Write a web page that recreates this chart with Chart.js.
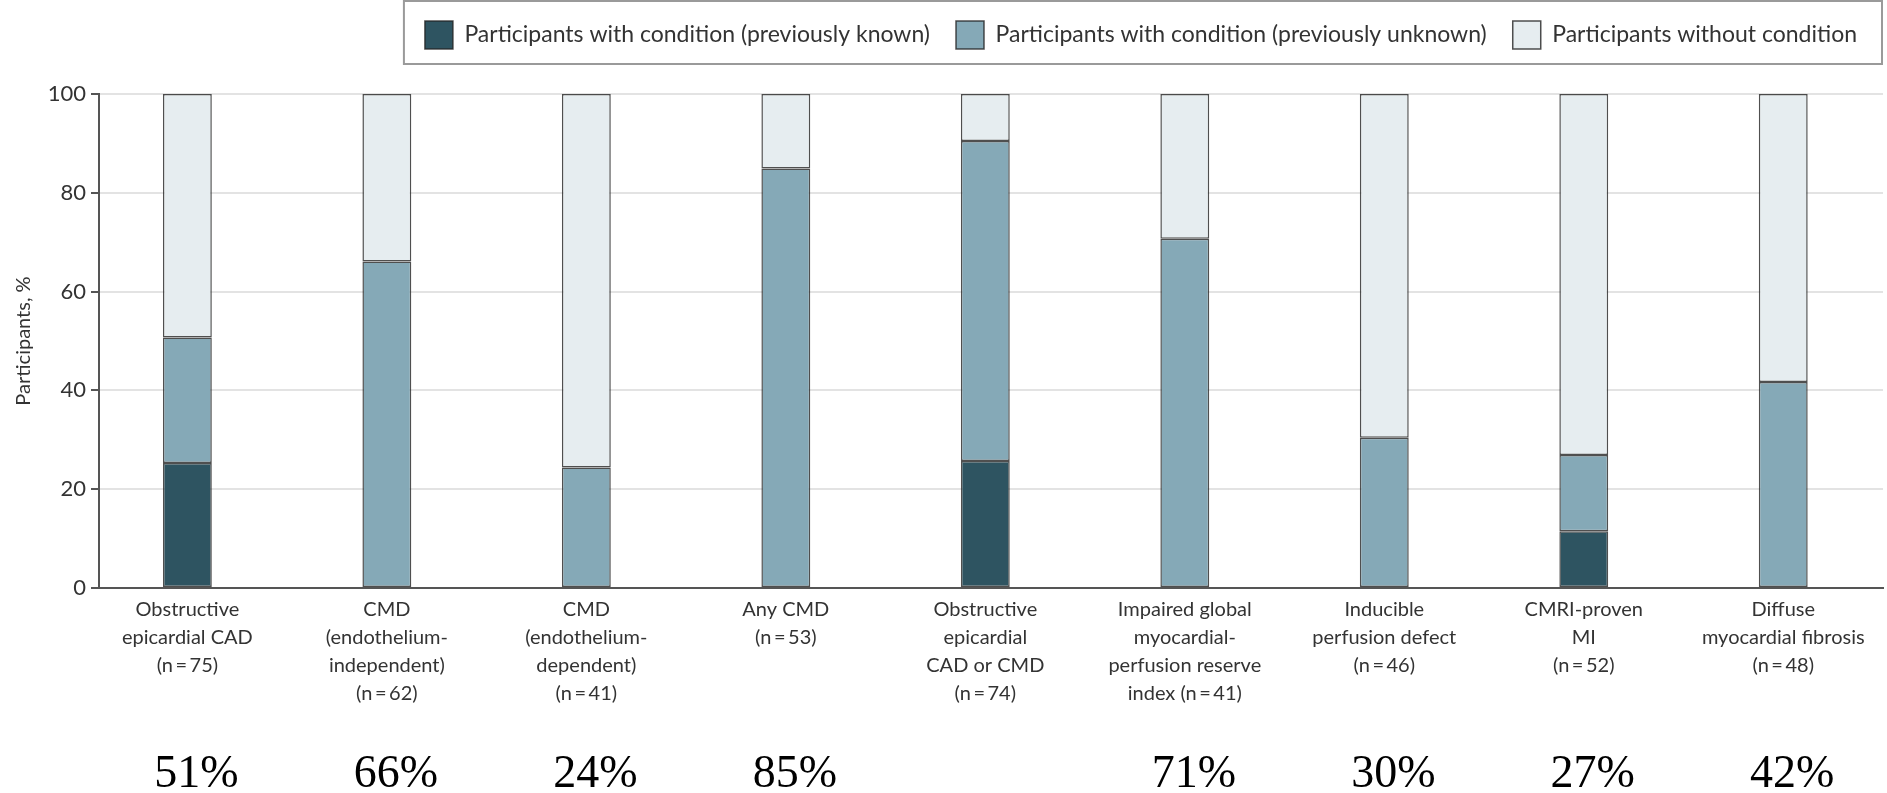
<!DOCTYPE html>
<html><head><meta charset="utf-8">
<script src="https://cdn.jsdelivr.net/npm/chart.js@4.4.1/dist/chart.umd.min.js"></script>
<style>html,body{margin:0;padding:0;background:#fff;}</style>
</head><body>
<canvas id="c" width="1887" height="793"></canvas>
<script>
const categories = [
  ["Obstructive", "epicardial CAD", "(n\u2009=\u200975)"],
  ["CMD", "(endothelium-", "independent)", "(n\u2009=\u200962)"],
  ["CMD", "(endothelium-", "dependent)", "(n\u2009=\u200941)"],
  ["Any CMD", "(n\u2009=\u200953)"],
  ["Obstructive", "epicardial", "CAD or CMD", "(n\u2009=\u200974)"],
  ["Impaired global", "myocardial-", "perfusion reserve", "index (n\u2009=\u200941)"],
  ["Inducible", "perfusion defect", "(n\u2009=\u200946)"],
  ["CMRI-proven", "MI", "(n\u2009=\u200952)"],
  ["Diffuse", "myocardial fibrosis", "(n\u2009=\u200948)"]
];
const knownPct   = [25.3, 0, 0, 0, 25.7, 0, 0, 11.5, 0];
const unknownPct = [25.4, 66.1, 24.4, 84.9, 64.8, 70.7, 30.4, 15.4, 41.7];
const withoutPct = [49.3, 33.9, 75.6, 15.1, 9.5, 29.3, 69.6, 73.1, 58.3];
const totalLabels = ["51%", "66%", "24%", "85%", "", "71%", "30%", "27%", "42%"];
const seriesNames = [
  "Participants with condition (previously known)",
  "Participants with condition (previously unknown)",
  "Participants without condition"
];
const yAxisTitle = "Participants, %";

const toPoints = arr => arr.map((v, i) => ({x: i, y: v}));
const barBorder = 'rgba(35,35,35,0.8)';

const legendFrame = {
  id: 'legendFrame',
  beforeUpdate(chart) {
    const lg = chart.legend;
    if (lg && !lg._wrappedFit) {
      const origFit = lg.fit.bind(lg);
      lg.fit = function () { origFit(); this.height = 99; };
      lg._wrappedFit = true;
    }
  },
  afterDraw(chart) {
    const lg = chart.legend;
    const hb = lg && lg.legendHitBoxes;
    if (!hb || !hb.length) return;
    const c = chart.ctx;
    const left = hb[0].left - 21;
    const right = lg.right - 1;
    const top = 1;
    const bottom = hb[0].top + hb[0].height + 15;
    c.save();
    c.strokeStyle = '#9a9a9a';
    c.lineWidth = 2;
    c.strokeRect(left, top, right - left, bottom - top);
    c.restore();
  }
};

Chart.defaults.font.family = 'Lato, "Open Sans", sans-serif';
Chart.defaults.color = '#333';

new Chart(document.getElementById('c'), {
  type: 'bar',
  data: {
    datasets: [
      {label: seriesNames[0], data: toPoints(knownPct), backgroundColor: '#2e5461'},
      {label: seriesNames[1], data: toPoints(unknownPct), backgroundColor: '#85a9b7'},
      {label: seriesNames[2], data: toPoints(withoutPct), backgroundColor: '#e6edf0'}
    ].map(d => Object.assign(d, {
      borderColor: barBorder, borderWidth: 1.5, borderSkipped: false,
      barPercentage: 0.245, categoryPercentage: 1
    }))
  },
  options: {
    responsive: false,
    animation: false,
    devicePixelRatio: 1,
    layout: {padding: {top: -5, right: 4, bottom: 0, left: 0}},
    plugins: {
      tooltip: {enabled: false},
      legend: {
        position: 'top', align: 'end',
        labels: {boxWidth: 28, boxHeight: 28, padding: 26, color: '#333',
                 font: {size: 23}}
      }
    },
    scales: {
      x: {
        type: 'linear', stacked: true, position: 'bottom', weight: 0, offset: false,
        min: -0.443, max: 8.5,
        grid: {display: true, color: 'rgba(0,0,0,0)', drawTicks: false, offset: false},
        border: {display: true, color: '#555', width: 2},
        ticks: {
          stepSize: 1, includeBounds: false, autoSkip: false, maxRotation: 0,
          padding: 8, color: '#333', font: {size: 20, lineHeight: 1.4},
          callback: v => Number.isInteger(v) ? categories[v] : ''
        },
        afterFit: s => { s.height = 140; }
      },
      x2: {
        type: 'linear', position: 'bottom', weight: 1, offset: false,
        min: -0.443, max: 8.5,
        grid: {display: false, offset: false},
        border: {display: false},
        ticks: {
          stepSize: 1, includeBounds: false, autoSkip: false, maxRotation: 0,
          padding: 11, labelOffset: 9, color: '#000',
          font: {family: '"Liberation Serif", "DejaVu Serif", serif', size: 46, lineHeight: 1.2},
          callback: v => Number.isInteger(v) ? totalLabels[v] : ''
        },
        afterFit: s => { s.height = 65; }
      },
      y: {
        stacked: true, min: 0, max: 100,
        grid: {
          color: ctx => (ctx.tick && ctx.tick.value === 0) ? '#555' : '#e3e3e3',
          lineWidth: 2, tickColor: '#555', tickLength: 8
        },
        border: {display: true, color: '#555', width: 2},
        ticks: {stepSize: 20, padding: 5, color: '#333', font: {size: 22}},
        title: {display: true, text: yAxisTitle, color: '#333', font: {size: 20}, padding: {top: 12, bottom: 0}},
        afterFit: s => { s.width = 99; }
      }
    }
  },
  plugins: [legendFrame]
});
</script>
</body></html>
